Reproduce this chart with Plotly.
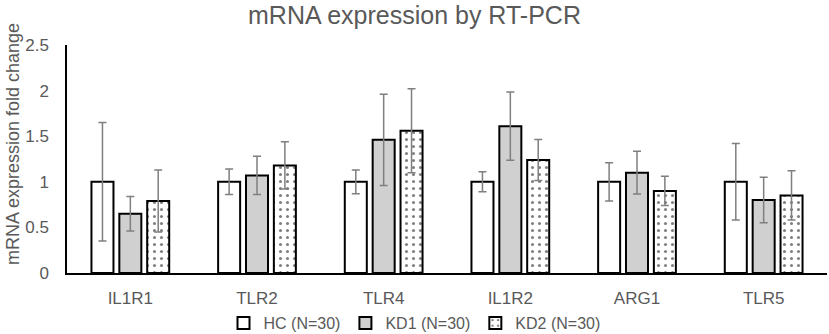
import plotly.graph_objects as go

categories = ["IL1R1", "TLR2", "TLR4", "IL1R2", "ARG1", "TLR5"]
hc_vals = [1.0, 1.0, 1.0, 1.0, 1.0, 1.0]
hc_err = [0.65, 0.14, 0.13, 0.11, 0.21, 0.42]
kd1_vals = [0.65, 1.07, 1.46, 1.61, 1.10, 0.80]
kd1_err = [0.19, 0.21, 0.50, 0.375, 0.235, 0.25]
kd2_vals = [0.79, 1.18, 1.56, 1.24, 0.90, 0.85]
kd2_err = [0.34, 0.26, 0.46, 0.225, 0.16, 0.27]
series_names = ["HC (N=30)", "KD1 (N=30)", "KD2 (N=30)"]
y_title = "mRNA expression fold change"

FONT = "Liberation Sans"
GREY = "#595959"
ERR = dict(type="data", visible=True, color="#7f7f7f", thickness=1.5, width=4)

fig = go.Figure()
fig.add_trace(go.Bar(
    x=categories, y=hc_vals, name=series_names[0],
    error_y=dict(array=hc_err, **ERR),
    marker=dict(color="white", line=dict(color="black", width=2)),
))
fig.add_trace(go.Bar(
    x=categories, y=kd1_vals, name=series_names[1],
    error_y=dict(array=kd1_err, **ERR),
    marker=dict(color="#d0d0d0", line=dict(color="black", width=2)),
))
fig.add_trace(go.Bar(
    x=categories, y=kd2_vals, name=series_names[2],
    error_y=dict(array=kd2_err, **ERR),
    marker=dict(color="white", line=dict(color="black", width=2),
                pattern=dict(shape=".", fgcolor="black", bgcolor="white",
                             size=7, solidity=0.15, fillmode="overlay")),
))

fig.add_annotation(
    text=y_title, textangle=-90, showarrow=False,
    xref="paper", x=(13 - 67) / 760, xanchor="center",
    yref="paper", y=(273 - 144) / 228, yanchor="middle",
    font=dict(size=18, color=GREY, family=FONT),
)

fig.update_layout(
    width=829, height=334,
    margin=dict(l=67, r=2, t=45, b=61, autoexpand=False),
    paper_bgcolor="white", plot_bgcolor="white",
    barmode="group", bargap=0.34, bargroupgap=0.21,
    font=dict(family=FONT, color=GREY, size=16),
    title=dict(text="mRNA expression by RT-PCR", x=0.5, xref="container",
               xanchor="center", y=0.955, yref="container", yanchor="middle",
               font=dict(size=25, color=GREY, family=FONT)),
    xaxis=dict(showline=True, linecolor="black", linewidth=1.5,
               showgrid=False, ticks="", ticklabelstandoff=9, automargin=False,
               tickfont=dict(size=17, color=GREY)),
    yaxis=dict(range=[0, 2.5], dtick=0.5, showline=True, linecolor="black",
               linewidth=1.5, showgrid=False, zeroline=False, ticks="",
               ticklabelstandoff=13, automargin=False,
               tickfont=dict(size=17, color=GREY)),
    legend=dict(orientation="h", x=0.5, xref="container", xanchor="center",
                y=-(323 - 273) / 228, yref="paper", yanchor="middle",
                font=dict(size=16, color=GREY), itemwidth=30,
                traceorder="normal"),
    showlegend=True,
)

fig.write_html("out.html", config={"displayModeBar": False},
               post_script="document.body.style.margin='0';")
